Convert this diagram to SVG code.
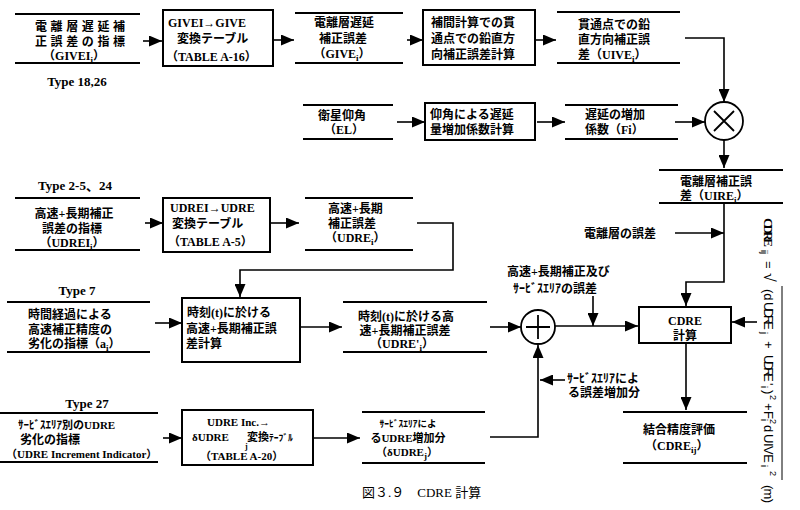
<svg xmlns="http://www.w3.org/2000/svg" width="800" height="510" viewBox="0 0 800 510">
<defs>
<marker id="a" viewBox="0 0 13 11" refX="13" refY="5.5" markerWidth="13" markerHeight="11" markerUnits="userSpaceOnUse" orient="auto"><path d="M0,0 L13,5.5 L0,11 z" fill="#000"/></marker>
<style>
text{font-family:"Liberation Serif","Noto Sans CJK JP",serif;font-weight:bold;font-size:12px;fill:#000}
.sub{font-size:9px}
.hk{font-size:12px}
.sm{font-size:11px}
.xs{font-size:9.5px}
.ty{font-size:13px}
.cap{font-weight:normal;font-size:13px}
.fm{font-family:"Liberation Sans",sans-serif;font-weight:normal;font-size:13px}
.fs{font-family:"Liberation Sans",sans-serif;font-weight:normal;font-size:9px}
.m{text-anchor:middle}
.dl{stroke:#000;stroke-width:2;fill:none}
.bx{fill:#fff;stroke:#000;stroke-width:2}
.c{stroke:#000;stroke-width:1.6;fill:none;marker-end:url(#a)}
.op{fill:#fff;stroke:#000;stroke-width:1.8}
</style>
</defs>
<rect width="800" height="510" fill="#fff"/>

<g id="connectors">
<path class="c" d="M143,41 H162"/>
<path class="c" d="M274,40 H294"/>
<path class="c" d="M407,40 H423"/>
<path class="c" d="M536,40 H556"/>
<path class="c" d="M685,38 H724 V102"/>
<path class="c" d="M397,122 H425"/>
<path class="c" d="M537,122 H565"/>
<path class="c" d="M675,122 H705"/>
<path class="c" d="M724,140 V168"/>
<path class="c" d="M724,203 V282 H686 V306"/>
<path class="c" d="M675,233 H724"/>
<path class="c" d="M145,223 H163"/>
<path class="c" d="M271,223 H299"/>
<path class="c" d="M417,223 H453 V270 H240 V297"/>
<path class="c" d="M155,323 H182"/>
<path class="c" d="M301,327 H342"/>
<path class="c" d="M490,327 H521"/>
<path class="c" d="M555,326 H638"/>
<path class="c" d="M593,296 V326"/>
<path class="c" d="M757,322 H732"/>
<path class="c" d="M686,343 V410"/>
<path class="c" d="M565,380 H540"/>
<path class="c" d="M163,438 H182"/>
<path class="c" d="M314,438 H360"/>
<path class="c" d="M490,437 H538 V345"/>
</g>

<g id="givei">
<path class="dl" d="M15,14 H140 M15,63 H140"/>
<text x="35" y="31" textLength="90">電離層遅延補</text>
<text x="35" y="46" textLength="90">正誤差の指標</text>
<text class="m" x="74" y="60">（GIVEI<tspan class="sub" dy="3">i</tspan><tspan dy="-3">）</tspan></text>
<text class="m ty" x="77" y="86">Type 18,26</text>
</g>

<g id="givei2give">
<rect class="bx" x="163" y="10" width="110" height="56"/>
<text x="168" y="27">GIVEI→GIVE</text>
<text x="177" y="43">変換テーブル</text>
<text x="166" y="61">（TABLE A-16）</text>
</g>

<g id="give">
<path class="dl" d="M295,13 H403 M295,63 H403"/>
<text class="m" x="344" y="27">電離層遅延</text>
<text class="m" x="343" y="43">補正誤差</text>
<text class="m" x="342" y="58">（GIVE<tspan class="sub" dy="3">i</tspan><tspan dy="-3">）</tspan></text>
</g>

<g id="interp">
<rect class="bx" x="423" y="10" width="112" height="55"/>
<text x="431" y="27">補間計算での貫</text>
<text x="431" y="43">通点での鉛直方</text>
<text x="431" y="59">向補正誤差計算</text>
</g>

<g id="uive">
<path class="dl" d="M557,12 H680 M557,63 H680"/>
<text x="578" y="29">貫通点での鉛</text>
<text x="578" y="44">直方向補正誤</text>
<text x="578" y="59">差（UIVE<tspan class="sub" dy="3">i</tspan><tspan dy="-3">）</tspan></text>
</g>

<g id="el">
<path class="dl" d="M303,105 H393 M303,139 H393"/>
<text class="m" x="342" y="120">衛星仰角</text>
<text class="m" x="344" y="134">（EL）</text>
</g>

<g id="fcalc">
<rect class="bx" x="425" y="103" width="110" height="37"/>
<text x="430" y="119">仰角による遅延</text>
<text x="430" y="134">量増加係数計算</text>
</g>

<g id="fi">
<path class="dl" d="M565,105 H678 M565,139 H678"/>
<text x="585" y="119">遅延の増加</text>
<text x="585" y="134">係数（Fi）</text>
</g>

<g id="mult">
<circle class="op" cx="724" cy="121" r="19"/>
<path d="M714,111 L734,131 M734,111 L714,131" stroke="#000" stroke-width="1.8"/>
</g>

<g id="uire">
<path class="dl" d="M659,170 H783 M659,203 H783"/>
<text x="680" y="186">電離層補正誤</text>
<text x="680" y="200">差（UIRE<tspan class="sub" dy="3">i</tspan><tspan dy="-3">）</tspan></text>
</g>

<g id="iono-err">
<text x="584" y="238">電離層の誤差</text>
</g>

<g id="udrei">
<text class="m ty" x="75" y="190">Type 2-5、24</text>
<path class="dl" d="M15,198 H140 M15,250 H140"/>
<text class="m" x="74" y="218">高速+長期補正</text>
<text class="m" x="72" y="233">誤差の指標</text>
<text class="m" x="72" y="247">（UDREI<tspan class="sub" dy="3">i</tspan><tspan dy="-3">）</tspan></text>
</g>

<g id="udrei2udre">
<rect class="bx" x="163" y="198" width="107" height="54"/>
<text x="170" y="212">UDREI→UDRE</text>
<text x="172" y="228">変換テーブル</text>
<text x="168" y="246">（TABLE A-5）</text>
</g>

<g id="udre">
<path class="dl" d="M305,198 H413 M305,250 H413"/>
<text x="328" y="213">高速+長期</text>
<text x="328" y="228">補正誤差</text>
<text x="325" y="242">（UDRE<tspan class="sub" dy="3">i</tspan><tspan dy="-3">）</tspan></text>
</g>

<g id="ai">
<text class="m ty" x="77" y="295">Type 7</text>
<path class="dl" d="M7,302 H150 M7,352 H150"/>
<text x="28" y="319">時間経過による</text>
<text x="28" y="334">高速補正精度の</text>
<text x="28" y="348">劣化の指標（a<tspan class="sub" dy="3">i</tspan><tspan dy="-3">）</tspan></text>
</g>

<g id="udret-calc">
<rect class="bx" x="182" y="298" width="118" height="64"/>
<text x="187" y="317">時刻(t)に於ける</text>
<text x="186" y="333">高速+長期補正誤</text>
<text x="186" y="348">差計算</text>
</g>

<g id="udret">
<path class="dl" d="M343,302 H487 M343,352 H487"/>
<text class="m" x="406" y="321">時刻(t)に於ける高</text>
<text class="m" x="405" y="335">速+長期補正誤差</text>
<text class="m" x="402" y="348">（UDRE'<tspan class="sub" dy="3">i</tspan><tspan dy="-3">）</tspan></text>
</g>

<g id="plus">
<circle class="op" cx="538" cy="327" r="17"/>
<path d="M526,327 H550 M538,315 V339" stroke="#000" stroke-width="1.8"/>
</g>

<g id="sa-err">
<text x="507" y="276">高速+長期補正及び</text>
<text class="hk" x="513" y="293">ｻｰﾋﾞｽｴﾘｱの誤差</text>
</g>

<g id="sa-inc">
<text class="hk" x="567" y="383">ｻｰﾋﾞｽｴﾘｱによ</text>
<text x="568" y="397">る誤差増加分</text>
</g>

<g id="cdre-calc">
<rect class="bx" x="639" y="307" width="92" height="36"/>
<text class="m" x="685" y="325">CDRE</text>
<text class="m" x="685" y="340">計算</text>
</g>

<g id="cdre">
<path class="dl" d="M623,412 H747 M623,463 H747"/>
<text x="643" y="434">結合精度評価</text>
<text x="645" y="450">（CDRE<tspan class="sub" dy="3">ij</tspan><tspan dy="-3">）</tspan></text>
</g>

<g id="udre-inc-ind">
<text class="m ty" x="87" y="408">Type 27</text>
<path class="dl" d="M0,413 H158 M0,462 H158"/>
<text class="sm" x="18" y="429">ｻｰﾋﾞｽｴﾘｱ別のUDRE</text>
<text x="20" y="444">劣化の指標</text>
<text class="sm" x="6" y="458">（UDRE Increment Indicator）</text>
</g>

<g id="inc-table">
<rect class="bx" x="182" y="410" width="131" height="55"/>
<text class="sm" x="207" y="426">UDRE Inc.→</text>
<text class="sm" x="192" y="441">δUDRE <tspan x="247">変換</tspan><tspan class="xs">ﾃｰﾌﾞﾙ</tspan><tspan x="245" dy="8" style="font-size:8px">j</tspan></text>
<text class="sm" x="200" y="460">（TABLE A-20）</text>
</g>

<g id="dudre">
<path class="dl" d="M362,412 H485 M362,463 H485"/>
<text class="xs m" x="408" y="427">ｻｰﾋﾞｽｴﾘｱによ</text>
<text class="sm m" x="408" y="442">るUDRE増加分</text>
<text class="sm m" x="407" y="456">（δUDRE<tspan class="sub" dy="3">j</tspan><tspan dy="-3">）</tspan></text>
</g>

<g id="formula" transform="translate(764,0) rotate(90)">
<text x="218" y="0" textLength="29" style="font-size:13px">CDRE</text>
<text class="fs" x="250" y="3">ij</text>
<text class="fm" x="261" y="0">=</text>
<text class="fm" x="273" y="0" style="font-size:16px">√</text>
<path d="M286,-18 H480" stroke="#000" stroke-width="1"/>
<text class="fm" x="289" y="0">(d</text>
<text class="fm" x="302" y="0" textLength="28">UDRE</text>
<text class="fs" x="332" y="3">j</text>
<text class="fm" x="341" y="0">+</text>
<text class="fm" x="355" y="0" textLength="27">UDRE</text>
<text class="fm" x="383" y="0">'</text>
<text class="fs" x="386" y="3">i</text>
<text class="fm" x="390" y="0">)</text>
<text class="fs" x="395" y="-6">2</text>
<text class="fm" x="403" y="0">+</text>
<text class="fm" x="411" y="0">F</text>
<text class="fs" x="419" y="3">i</text>
<text class="fs" x="419" y="-6">2</text>
<text class="fm" x="425" y="0">d</text>
<text class="fm" x="434" y="0" textLength="29">UIVE</text>
<text class="fs" x="465" y="3">i</text>
<text class="fs" x="471" y="-6">2</text>
<text class="fm" x="485" y="0" textLength="18">(m)</text>
</g>

<g id="caption">
<text class="cap" x="362" y="497">図３.９　CDRE 計算</text>
</g>
</svg>
